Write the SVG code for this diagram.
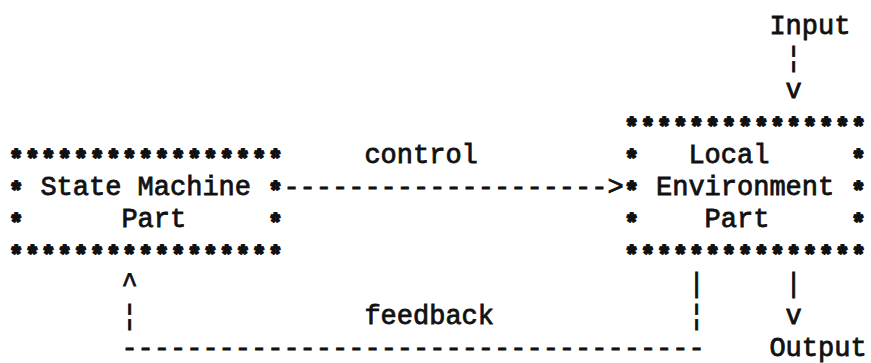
<svg xmlns="http://www.w3.org/2000/svg" width="871" height="363" viewBox="0 0 871 363" xml:space="preserve">
  <style>
    text { font-family: "Liberation Mono", "Courier New", monospace; font-size: 27px; fill: #111; stroke: #111; stroke-width: 0.8; }
    /* border asterisks: heavier glyph kept on the same 16.2px column pitch */
    .ast { font-size: 23px; letter-spacing: 2.4px; font-weight: bold; stroke-width: 2; stroke-linejoin: round; }
  </style>
  <rect width="871" height="363" fill="#fff"/>

  <!-- State Machine Part box (columns 0-16) -->
  <g id="state-machine">
    <text class="ast" x="9.2" y="167">*****************</text>
    <text class="ast" x="9.2" y="199">*</text>
    <text x="40.4" y="195">State Machine</text>
    <text class="ast" x="268.4" y="199">*</text>
    <text class="ast" x="9.2" y="231">*</text>
    <text x="121.4" y="227">Part</text>
    <text class="ast" x="268.4" y="231">*</text>
    <text class="ast" x="9.2" y="263">*****************</text>
  </g>

  <!-- Local Environment Part box (columns 38-52) -->
  <g id="local-environment">
    <text class="ast" x="624.8" y="135">***************</text>
    <text class="ast" x="624.8" y="167">*</text>
    <text x="688.4" y="163">Local</text>
    <text class="ast" x="851.6" y="167">*</text>
    <text class="ast" x="624.8" y="199">*</text>
    <text x="656" y="195">Environment</text>
    <text class="ast" x="851.6" y="199">*</text>
    <text class="ast" x="624.8" y="231">*</text>
    <text x="704.6" y="227">Part</text>
    <text class="ast" x="851.6" y="231">*</text>
    <text class="ast" x="624.8" y="263">***************</text>
  </g>

  <g id="input">
    <text x="769.4" y="34">Input</text>
  </g>
  <g id="output">
    <text x="769.4" y="356">Output</text>
  </g>

  <!-- connectors drawn with typewriter characters -->
  <g id="connectors">
    <!-- input into the environment box -->
    <text x="785.6" y="66">¦</text>
    <text x="785.6" y="98">v</text>
    <!-- control: state machine to environment -->
    <text x="364.4" y="163">control</text>
    <text x="283.4" y="195">--------------------&gt;</text>
    <!-- feedback loop back to the state machine -->
    <text x="121.4" y="292">^</text>
    <text x="121.4" y="324">¦</text>
    <text x="688.4" y="292">|</text>
    <text x="688.4" y="324">¦</text>
    <text x="364.4" y="324">feedback</text>
    <text x="121.4" y="356">------------------------------------</text>
    <!-- output out of the environment box -->
    <text x="785.6" y="292">|</text>
    <text x="785.6" y="324">v</text>
  </g>
</svg>
